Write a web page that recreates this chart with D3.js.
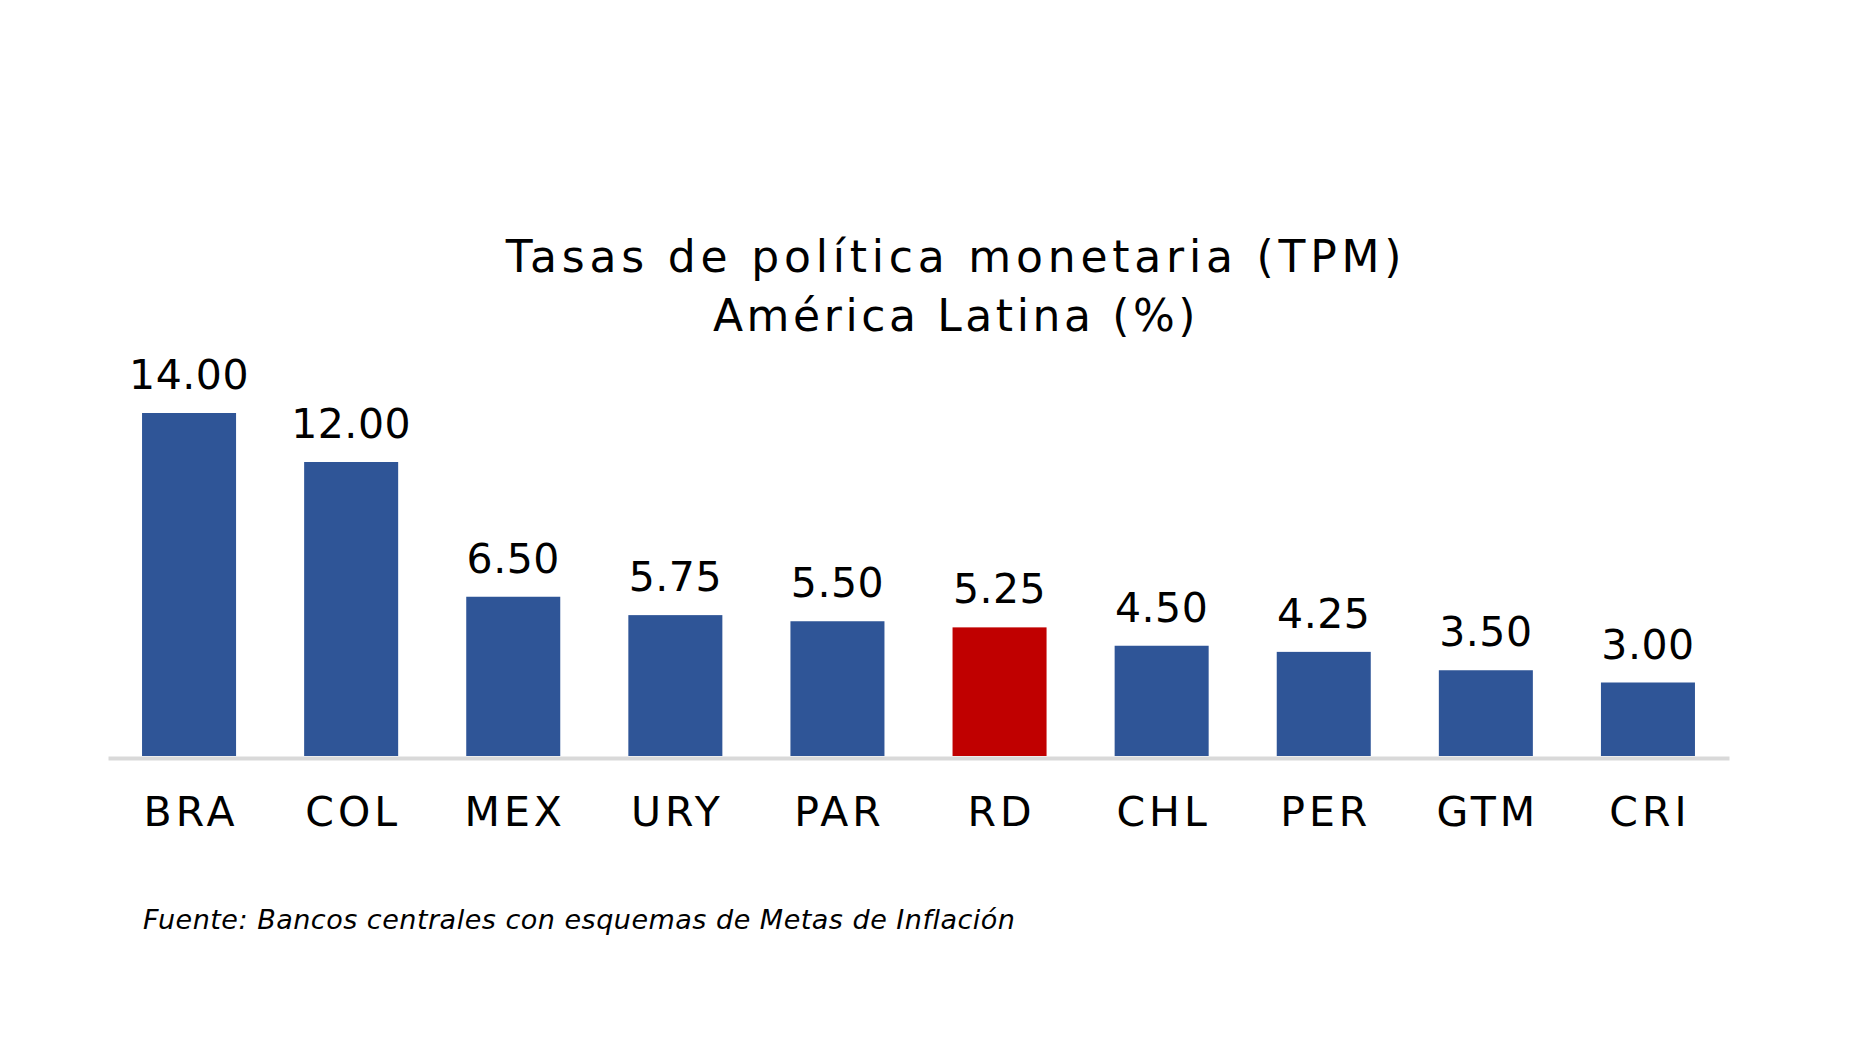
<!DOCTYPE html>
<html>
<head>
<meta charset="utf-8">
<script src="https://cdn.jsdelivr.net/npm/d3@7"></script>
<style>
  html, body { margin: 0; padding: 0; background: #fff; }
  svg { display: block; font-family: "DejaVu Sans", "Open Sans", sans-serif; }
</style>
</head>
<body>
<div id="chart"></div>
<script>
// data
const countries = ["BRA", "COL", "MEX", "URY", "PAR", "RD", "CHL", "PER", "GTM", "CRI"];
const rates = [14.00, 12.00, 6.50, 5.75, 5.50, 5.25, 4.50, 4.25, 3.50, 3.00];
const highlight = ["RD"];

const titleText = "Tasas de política monetaria (TPM)";
const subtitleText = "América Latina (%)";
const sourceText = "Fuente: Bancos centrales con esquemas de Metas de Inflación";

const width = 1873, height = 1064;
const margin = {top: 364, right: 144, bottom: 308, left: 108};

const svg = d3.select("#chart")
    .append("svg")
    .attr("width", width)
    .attr("height", height);

const x = d3.scaleBand()
    .domain(countries)
    .range([margin.left, width - margin.right])
    .paddingInner(0.42)
    .paddingOuter(0.21);

const y = d3.scaleLinear()
    .domain([0, 16])
    .range([height - margin.bottom, margin.top]);

// bars
svg.append("g")
    .selectAll("rect")
    .data(countries)
    .join("rect")
    .attr("x", d => x(d))
    .attr("y", (d, i) => y(rates[i]))
    .attr("width", x.bandwidth())
    .attr("height", (d, i) => y(0) - y(rates[i]))
    .attr("fill", d => highlight.includes(d) ? "#C00000" : "#2F5597");

// value labels
svg.append("g")
    .selectAll("text")
    .data(countries)
    .join("text")
    .attr("x", d => x(d) + x.bandwidth() / 2)
    .attr("y", (d, i) => y(rates[i]) - 24)
    .attr("text-anchor", "middle")
    .style("font-size", "41px")
    .style("letter-spacing", "0.5px")
    .style("fill", "#000")
    .text((d, i) => d3.format(".2f")(rates[i]));

// category axis
const xAxis = svg.append("g")
    .attr("transform", "translate(0," + y(0) + ")")
    .call(d3.axisBottom(x).tickSize(0).tickPadding(70));
xAxis.select(".domain")
    .attr("stroke", "#D9D9D9")
    .attr("stroke-width", 4)
    .attr("transform", "translate(0,2)");
xAxis.selectAll("text")
    .attr("dy", 0)
    .attr("dx", 2)
    .style("font-family", "'DejaVu Sans', sans-serif")
    .style("font-size", "41px")
    .style("letter-spacing", "4px")
    .style("fill", "#000");

// titles
svg.append("text")
    .attr("x", 956)
    .attr("y", 272)
    .attr("text-anchor", "middle")
    .style("font-size", "44px")
    .style("letter-spacing", "4.8px")
    .text(titleText);

svg.append("text")
    .attr("x", 956)
    .attr("y", 331)
    .attr("text-anchor", "middle")
    .style("font-size", "44px")
    .style("letter-spacing", "3.6px")
    .text(subtitleText);

// source note
svg.append("text")
    .attr("x", 143)
    .attr("y", 929)
    .style("font-size", "27px")
    .style("font-style", "italic")
    .style("letter-spacing", "0.5px")
    .text(sourceText);
</script>
</body>
</html>
